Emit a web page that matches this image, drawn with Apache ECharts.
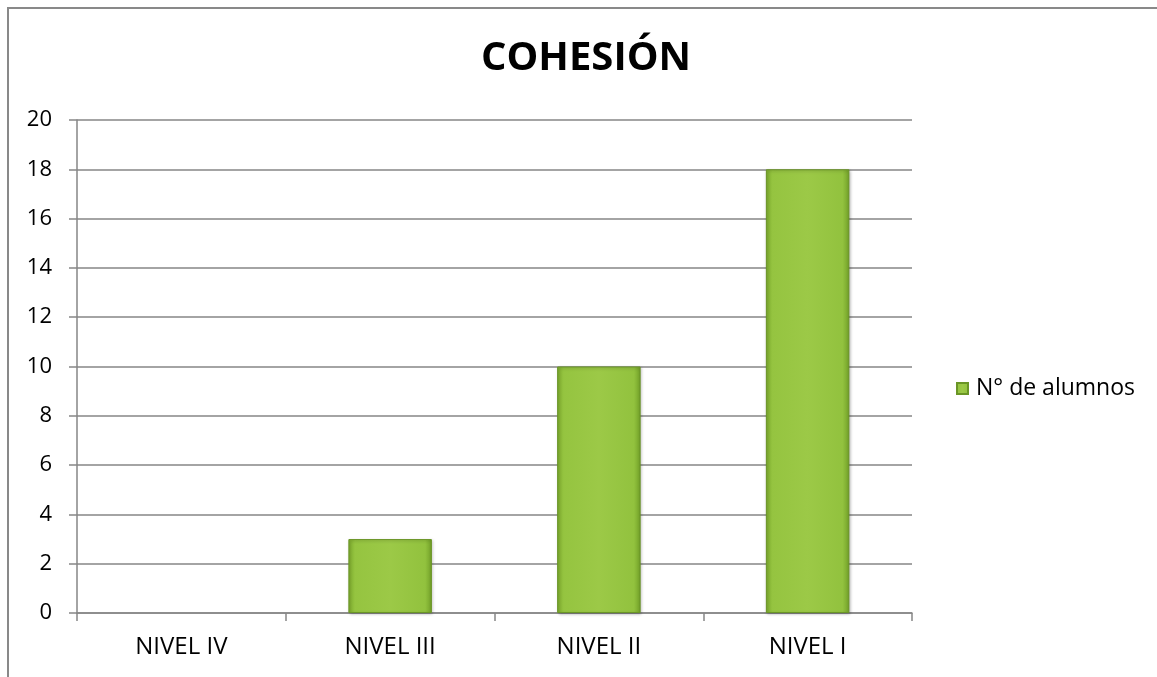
<!DOCTYPE html>
<html>
<head>
<meta charset="utf-8">
<script src="https://cdn.jsdelivr.net/npm/echarts@6/dist/echarts.min.js"></script>
<style>
  html, body { margin: 0; padding: 0; background: #fff; }
  #chart { width: 1157px; height: 677px; }
</style>
</head>
<body>
<div id="chart"></div>
<script>
  const categories = ['NIVEL IV', 'NIVEL III', 'NIVEL II', 'NIVEL I']
  const alumnos = [0, 3, 10, 18]
  const seriesName = 'N° de alumnos'

  const chart = echarts.init(document.getElementById('chart'))

  const barColor = new echarts.graphic.LinearGradient(0, 0, 1, 0, [
    { offset: 0, color: '#7fae2e' },
    { offset: 0.08, color: '#95c440' },
    { offset: 0.5, color: '#9cc947' },
    { offset: 0.92, color: '#92c23e' },
    { offset: 1, color: '#72a028' }
  ])

  // una barra en cero no se dibuja (sin borde ni sombra)
  const barData = alumnos.map(v => v === 0
    ? { value: v, itemStyle: { borderWidth: 0, shadowBlur: 0, shadowOffsetX: 0, shadowOffsetY: 0 } }
    : v)

  chart.setOption({
    animation: false,
    title: {
      text: 'COHESIÓN',
      left: 581,
      top: 34,
      textAlign: 'center',
      textStyle: { fontFamily: 'Open Sans', fontWeight: 'bold', fontSize: 40, color: '#000' }
    },
    legend: {
      data: [{ name: seriesName, icon: 'rect' }],
      left: 951,
      top: 372,
      orient: 'vertical',
      itemWidth: 11,
      itemHeight: 11,
      itemGap: 6,
      textStyle: { fontFamily: 'Open Sans', fontSize: 23, color: '#000', padding: [0, 0, 0, 3] }
    },
    grid: {
      left: 77,
      right: 245,
      top: 120,
      bottom: 64
    },
    xAxis: {
      type: 'category',
      data: categories,
      axisLine: { lineStyle: { color: '#868686', width: 1.5 } },
      axisTick: { show: true, length: 8, lineStyle: { color: '#868686', width: 1.5 } },
      axisLabel: { margin: 22, fontFamily: 'Open Sans', fontSize: 24, color: '#000' },
      splitLine: { show: false }
    },
    yAxis: {
      type: 'value',
      min: 0,
      max: 20,
      interval: 2,
      axisLine: { show: true, lineStyle: { color: '#868686', width: 1.5 } },
      axisTick: { show: true, length: 8, lineStyle: { color: '#868686', width: 1.5 } },
      axisLabel: { margin: 25, fontFamily: 'Open Sans', fontSize: 22, color: '#000' },
      splitLine: { lineStyle: { color: '#868686', width: 1.5 } }
    },
    series: [
      {
        name: seriesName,
        type: 'bar',
        data: barData,
        barWidth: '40%',
        itemStyle: {
          color: barColor,
          borderColor: '#6a9526',
          borderWidth: 1,
          shadowColor: 'rgba(0,0,0,0.25)',
          shadowBlur: 3,
          shadowOffsetX: 1,
          shadowOffsetY: 1
        }
      }
    ],
    graphic: [
      {
        type: 'polyline',
        shape: { points: [[8, 677], [8, 8], [1157, 8]] },
        style: { stroke: '#898989', lineWidth: 2, fill: null }
      }
    ]
  })
</script>
</body>
</html>
